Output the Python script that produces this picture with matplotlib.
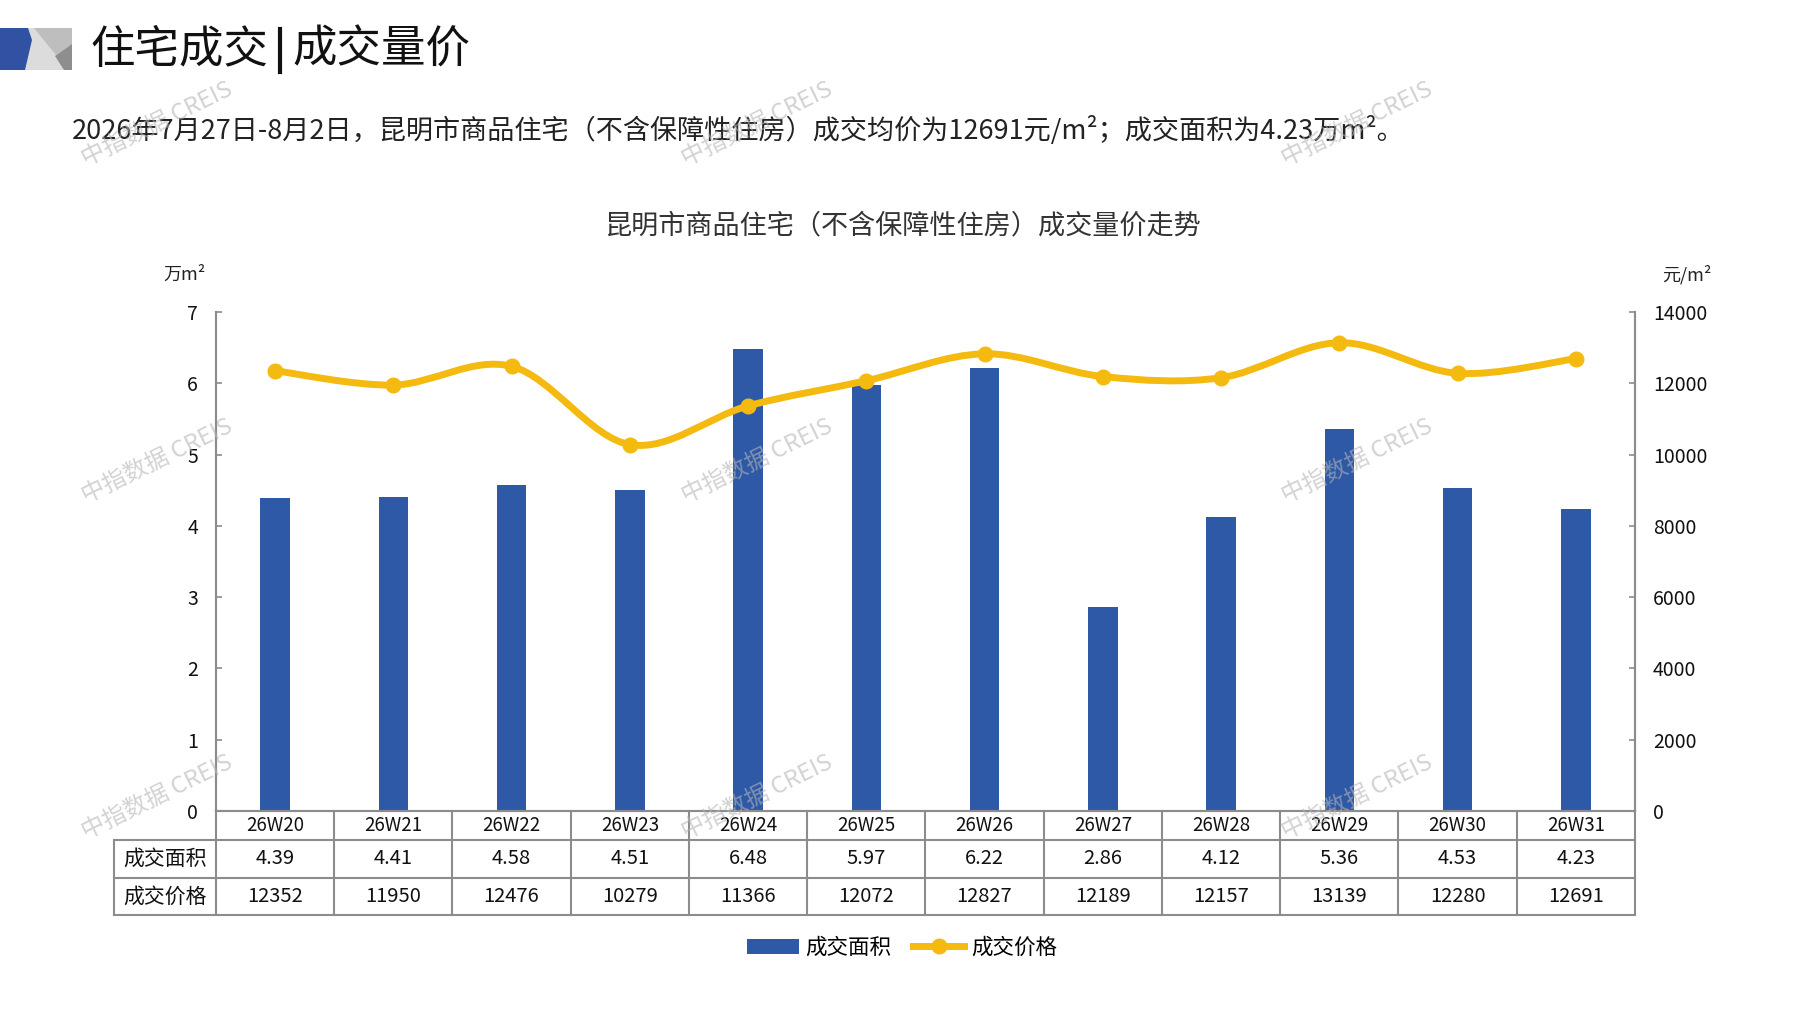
import numpy as np
import matplotlib
matplotlib.use('Agg')
import matplotlib.pyplot as plt
import matplotlib.transforms as mtransforms
from matplotlib.path import Path
from matplotlib.patches import PathPatch, Polygon, Patch
from matplotlib.lines import Line2D

plt.rcParams['font.family'] = ['Noto Sans CJK SC', 'DejaVu Sans']

# data
weeks = ['26W20', '26W21', '26W22', '26W23', '26W24', '26W25',
         '26W26', '26W27', '26W28', '26W29', '26W30', '26W31']
area = [4.39, 4.41, 4.58, 4.51, 6.48, 5.97, 6.22, 2.86, 4.12, 5.36, 4.53, 4.23]
price = [12352, 11950, 12476, 10279, 11366, 12072, 12827, 12189, 12157, 13139, 12280, 12691]
row_labels = ['成交面积', '成交价格']
left_ticks = [0, 1, 2, 3, 4, 5, 6, 7]
right_ticks = [0, 2000, 4000, 6000, 8000, 10000, 12000, 14000]

W, H = 1797, 1010
blue = '#2E59A7'
gold = '#F5BA0F'
grid_gray = '#8C8C8C'

fig = plt.figure(figsize=(W / 100, H / 100), dpi=100)

# pixel coords (y from top) -> figure
px = mtransforms.Affine2D().scale(1 / W, -1 / H).translate(0, 1) + fig.transFigure

# logo block
fig.add_artist(Polygon([(0, 28), (72, 28), (72, 70), (0, 70)], closed=True,
                       facecolor='#DCDCDC', edgecolor='none', transform=px))
fig.add_artist(Polygon([(34, 28), (72, 28), (72, 44), (56, 55)], closed=True,
                       facecolor='#BEBEBE', edgecolor='none', transform=px))
fig.add_artist(Polygon([(55, 56), (72, 44), (72, 70), (64, 70)], closed=True,
                       facecolor='#8E8E8E', edgecolor='none', transform=px))
fig.add_artist(Polygon([(0, 28), (28, 28), (32, 40), (25, 70), (0, 70)], closed=True,
                       facecolor='#3151A3', edgecolor='none', transform=px))

# title
fig.text(90 / W, 1 - 50 / H, '住宅成交', fontsize=32, va='center', ha='left', color='#111111')
fig.add_artist(Line2D([280, 280], [29, 72], color='#111111', lw=3, transform=px))
fig.text(292 / W, 1 - 50 / H, '成交量价', fontsize=32, va='center', ha='left', color='#111111')

fig.text(72 / W, 1 - 130 / H,
         '2026年7月27日-8月2日，昆明市商品住宅（不含保障性住房）成交均价为12691元/m²；成交面积为4.23万m²。',
         fontsize=19.5, va='center', ha='left', color='#222222')

fig.text(902 / W, 1 - 226 / H, '昆明市商品住宅（不含保障性住房）成交量价走势',
         fontsize=19.5, va='center', ha='center', color='#333333')

fig.text(185 / W, 1 - 275 / H, '万m²', fontsize=13, va='center', ha='center', color='#222222')
fig.text(1687 / W, 1 - 275 / H, '元/m²', fontsize=13, va='center', ha='center', color='#222222')

# axes
top_px, bot_px = 312, 811
ax = fig.add_axes([216 / W, 1 - bot_px / H, (1635 - 216) / W, (bot_px - top_px) / H])
ax2 = ax.twinx()

x = np.arange(len(weeks))
ax.bar(x, area, width=0.25, color=blue, zorder=2)

ax.set_xlim(-0.5, len(weeks) - 0.5)
ax.set_ylim(0, 7)
ax.set_yticks(left_ticks)
ax2.set_ylim(0, 14000)
ax2.set_yticks(right_ticks)

for a in (ax, ax2):
    a.spines['top'].set_visible(False)
    for s in ('left', 'right', 'bottom'):
        a.spines[s].set_color(grid_gray)
        a.spines[s].set_linewidth(1.5)
    a.tick_params(axis='x', length=0, labelbottom=False)
    a.tick_params(axis='y', direction='in', length=4, width=1.2, color=grid_gray,
                  labelsize=14, pad=13, labelcolor='#111111')
    a.patch.set_visible(False)

# smoothed price line
pts = np.column_stack([x, price]).astype(float)
ext = np.vstack([pts[0], pts, pts[-1]])
verts = [pts[0]]
codes = [Path.MOVETO]
for i in range(len(pts) - 1):
    p0, p1, p2, p3 = ext[i], ext[i + 1], ext[i + 2], ext[i + 3]
    verts += [p1 + (p2 - p0) / 6, p2 - (p3 - p1) / 6, p2]
    codes += [Path.CURVE4] * 3
ax2.add_patch(PathPatch(Path(verts, codes), fill=False, edgecolor=gold, lw=5,
                        capstyle='round', joinstyle='round', zorder=3))
ax2.plot(x, price, 'o', color=gold, ms=10.5, zorder=4)

# data table under the plot
bt = mtransforms.blended_transform_factory(ax.transData, ax.transAxes)
hpx = bot_px - top_px


def ya(p):
    return (bot_px - p) / hpx


rows_px = [811, 840, 878, 915]
x_head = (114 - 216) / (1635 - 216)
lkw = dict(color=grid_gray, lw=1.5, clip_on=False)
for xv in np.arange(len(weeks) + 1) - 0.5:
    ax.plot([xv, xv], [ya(rows_px[0]), ya(rows_px[-1])], transform=bt, **lkw)
for rp in rows_px[1:]:
    ax.plot([x_head, 1], [ya(rp), ya(rp)], transform=ax.transAxes, **lkw)
ax.plot([x_head, x_head], [ya(rows_px[1]), ya(rows_px[-1])], transform=ax.transAxes, **lkw)

for i in range(len(weeks)):
    ax.text(x[i], ya((rows_px[0] + rows_px[1]) / 2), weeks[i], transform=bt,
            ha='center', va='center', fontsize=13.5, color='#111111')
    ax.text(x[i], ya((rows_px[1] + rows_px[2]) / 2), f'{area[i]:.2f}', transform=bt,
            ha='center', va='center', fontsize=14.5, color='#111111')
    ax.text(x[i], ya((rows_px[2] + rows_px[3]) / 2), f'{price[i]}', transform=bt,
            ha='center', va='center', fontsize=14.5, color='#111111')
for r, lab in enumerate(row_labels):
    ax.text(x_head / 2, ya((rows_px[r + 1] + rows_px[r + 2]) / 2), lab,
            transform=ax.transAxes, ha='center', va='center', fontsize=15, color='#111111')

# legend
handles = [Patch(facecolor=blue, edgecolor='none'),
           Line2D([], [], color=gold, lw=5, marker='o', ms=10.5)]
fig.legend(handles, ['成交面积', '成交价格'], loc='center', bbox_to_anchor=(902 / W, 1 - 948 / H),
           ncol=2, frameon=False, fontsize=15.5, handlelength=2.4, columnspacing=1.0,
           handletextpad=0.3)

# watermarks
for wx in (157, 757, 1357):
    for wy in (124, 461, 797):
        fig.text(wx / W, 1 - wy / H, '中指数据 CREIS', fontsize=17, rotation=26,
                 ha='center', va='center', color='#B5B5B5', alpha=0.6, zorder=10)

fig.savefig('out.png', dpi=100)
